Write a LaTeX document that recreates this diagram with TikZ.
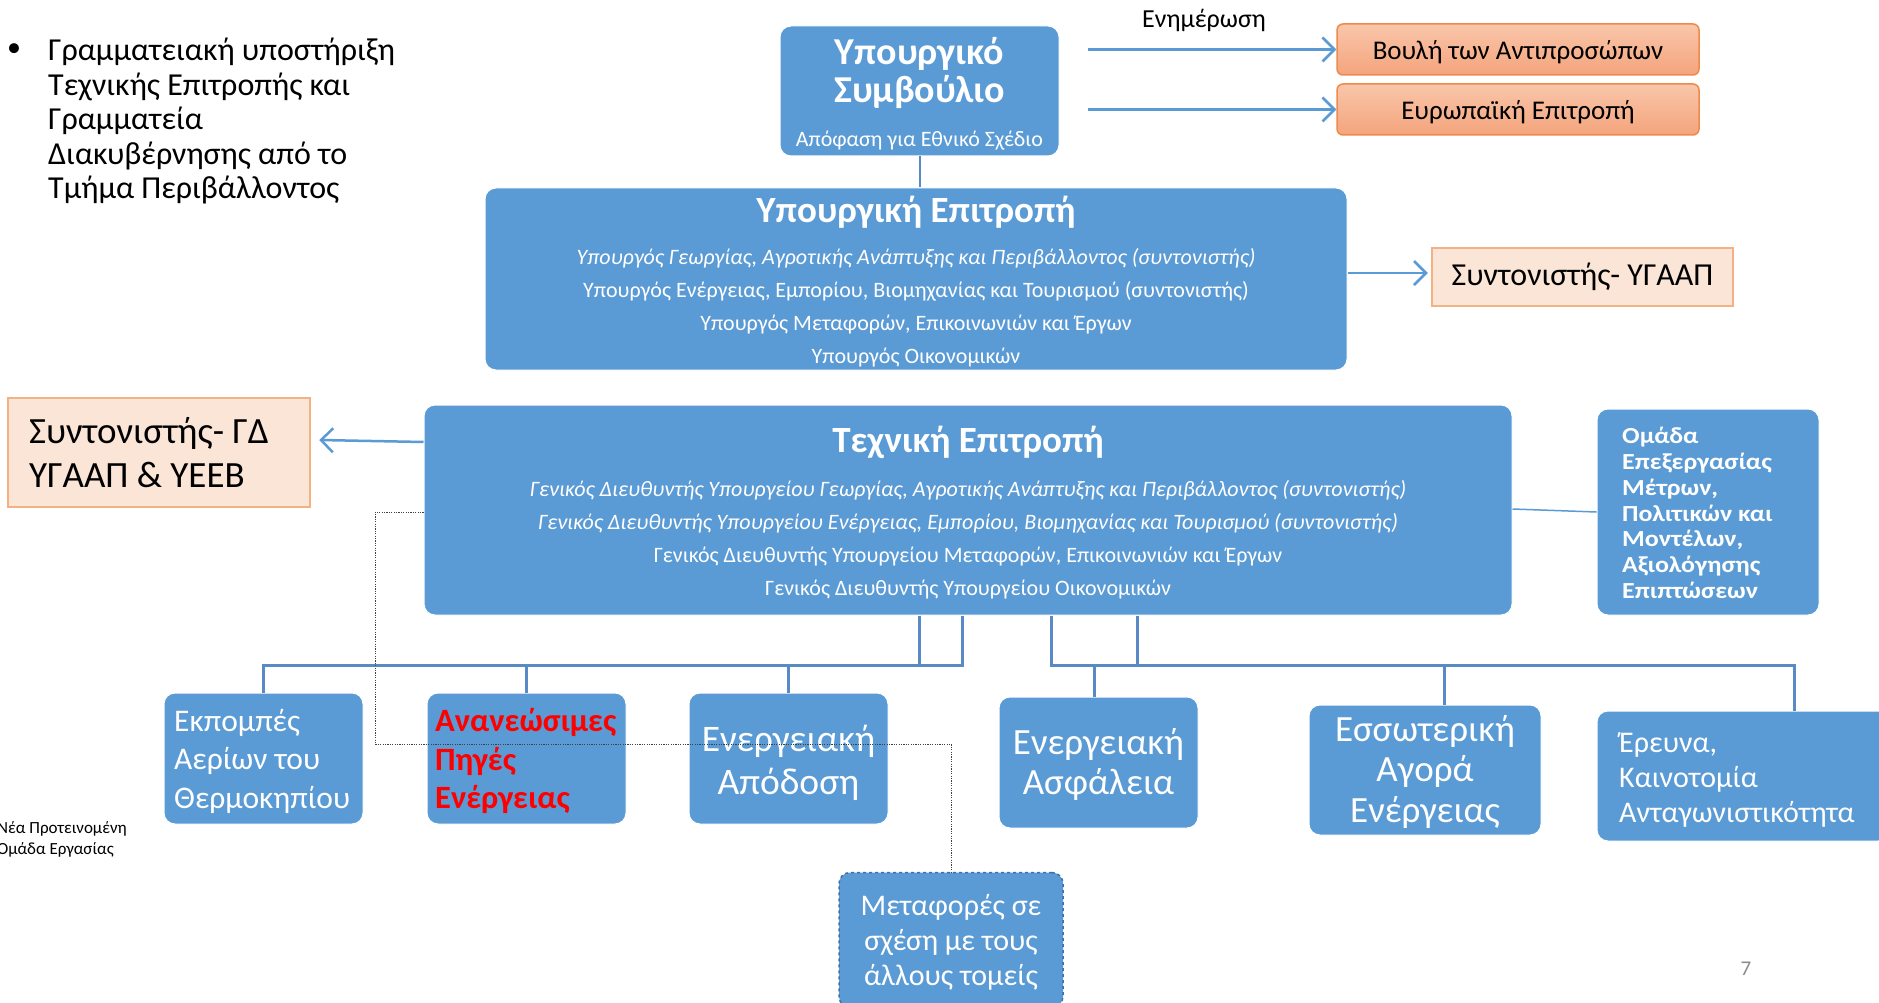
\documentclass[tikz,border=0pt]{standalone}
\usepackage{fontspec}
\setmainfont{Carlito}
\newfontfamily\widefont[FakeStretch=1.13]{Carlito}
\usetikzlibrary{arrows.meta,calc}
\definecolor{boxblue}{HTML}{5B9BD5}
\definecolor{busblue}{HTML}{5A8AC6}
\definecolor{peachfill}{HTML}{FBE5D6}
\definecolor{peachline}{HTML}{F4B183}
\definecolor{orangetop}{HTML}{F9C6AA}
\definecolor{orangebot}{HTML}{F4A47C}
\definecolor{orangeline}{HTML}{ED8A4C}
\definecolor{pagegrey}{HTML}{8C8C8C}
\definecolor{dashblue}{HTML}{3F6FA8}
\definecolor{alertred}{HTML}{FF0000}
\newcommand{\fs}[2]{\fontsize{#1}{#2}\selectfont}

\begin{document}
\begin{tikzpicture}[x=1pt,y=-1pt,
  bluebox/.style={fill=boxblue, draw=white, line width=1pt, rounded corners=11pt, inner sep=0pt},
  orangebox/.style={top color=orangetop, bottom color=orangebot, draw=orangeline, line width=1.5pt, rounded corners=6pt, inner sep=0pt, text height=26pt, text depth=6.6pt},
  peachbox/.style={fill=peachfill, draw=peachline, line width=2.5pt, inner sep=0pt},
  wtext/.style={text=white, inner sep=0pt},
  plain/.style={inner sep=0pt},
  link/.style={draw=boxblue, line width=2.5pt},
  barb/.style={link, -{Straight Barb[length=12pt,width=24pt,line width=2.5pt]}},
  bus/.style={draw=busblue, line width=3pt},
  dotline/.style={draw=black!75, line width=0.9pt, dash pattern=on 1.2pt off 1.2pt}
]
\fill[white] (0,0) rectangle (1879,1003);
\useasboundingbox (0,0) rectangle (1879,1003);

% secretariat note with bullet
\node[plain, font=\fs{28}{34.5}] (bul) at (14,50) {•};
\node[plain, font=\fs{32}{34.5}, align=left, anchor=west] (sec) at (48,121)
  {Γραμματειακή υποστήριξη\\Τεχνικής Επιτροπής και\\Γραμματεία\\Διακυβέρνησης από το\\Τμήμα Περιβάλλοντος};

% ministerial council
\node[bluebox, minimum width=279pt, minimum height=130pt] (sumv) at (919.5,91) {};
\node[wtext, font=\bfseries\fs{38}{39}, align=center] (sumv-t) at (919.5,73) {Υπουργικό\\Συμβούλιο};
\node[wtext, font=\fs{22}{23}] (sumv-s) at (919.5,141) {Απόφαση για Εθνικό Σχέδιο};

% informed bodies
\node[plain, font=\fs{26}{28}] (enim) at (1204,20) {Ενημέρωση};
\node[orangebox, minimum width=362pt, minimum height=51pt, font=\fs{27}{29}] (vouli) at (1518,49.5) {Βουλή των Αντιπροσώπων};
\node[orangebox, minimum width=362pt, minimum height=51pt, font=\fs{27}{29}] (europ) at (1518,109.5) {Ευρωπαϊκή Επιτροπή};
\coordinate (a1) at (1088,49.5);
\coordinate (a2) at (1088,109.5);
\draw[barb] (a1) -- (vouli.west);
\draw[barb] (a2) -- (europ.west);

% ministerial committee
\node[bluebox, minimum width=862pt, minimum height=182pt] (ypep) at (916,279) {};
\node[wtext, font=\bfseries\fs{37}{38}] (ypep-t) at (916,212.5) {Υπουργική Επιτροπή};
\node[wtext, font=\fs{22}{33}, align=center] (ypep-b) at (916,308)
  {{\itshape Υπουργός Γεωργίας, Αγροτικής Ανάπτυξης και Περιβάλλοντος (συντονιστής)}\\
   Υπουργός Ενέργειας, Εμπορίου, Βιομηχανίας και Τουρισμού (συντονιστής)\\
   Υπουργός Μεταφορών, Επικοινωνιών και Έργων\\
   Υπουργός Οικονομικών};
\draw[draw=busblue, line width=2pt] (sumv.south) -- (ypep.north -| sumv.south);

\node[peachbox, minimum width=301pt, minimum height=58pt, font=\fs{32}{34}] (syntyg) at (1582.5,277) {Συντονιστής- ΥΓΑΑΠ};
\draw[barb, shorten >=3pt] (ypep.east |- 0,273) -- (syntyg.west |- 0,273);

% technical committee
\node[bluebox, minimum width=1088pt, minimum height=210pt] (texep) at (968,510) {};
\node[wtext, font=\bfseries\fs{37}{38}] (texep-t) at (968,442.5) {Τεχνική Επιτροπή};
\node[wtext, font=\fs{22}{33}, align=center] (texep-b) at (968,540)
  {{\itshape Γενικός Διευθυντής Υπουργείου Γεωργίας, Αγροτικής Ανάπτυξης και Περιβάλλοντος (συντονιστής)}\\
   {\itshape Γενικός Διευθυντής Υπουργείου Ενέργειας, Εμπορίου, Βιομηχανίας και Τουρισμού (συντονιστής)}\\
   Γενικός Διευθυντής Υπουργείου Μεταφορών, Επικοινωνιών και Έργων\\
   Γενικός Διευθυντής Υπουργείου Οικονομικών};

\node[peachbox, minimum width=302pt, minimum height=109pt] (syntgd) at (159,452.5) {};
\node[plain, font=\fs{37}{44}, align=left, anchor=west] (syntgd-t) at (29,453) {Συντονιστής- ΓΔ\\ΥΓΑΑΠ \& ΥΕΕΒ};
\draw[barb] ($(texep.west)+(0,-68)$) -- ($(syntgd.east)+(8,-12.5)$);

\node[bluebox, minimum width=222pt, minimum height=206pt] (omada) at (1708,512) {};
\node[wtext, font=\widefont\bfseries\fs{23}{25.8}, align=left, anchor=west] (omada-t) at (1622,513)
  {Ομάδα\\Επεξεργασίας\\Μέτρων,\\Πολιτικών και\\Μοντέλων,\\Αξιολόγησης\\Επιπτώσεων};
\draw[link, line width=1.5pt] ($(texep.east)+(0,-1)$) -- (omada.west);

% working groups
\node[bluebox, minimum width=199pt, minimum height=131pt] (ekp) at (263.5,758.5) {};
\node[wtext, font=\fs{31.5}{38.5}, align=left, anchor=west] (ekp-t) at (174,761) {Εκπομπές\\Αερίων του\\Θερμοκηπίου};
\node[bluebox, minimum width=199pt, minimum height=131pt] (anan) at (526.5,758.5) {};
\node[plain, text=alertred, font=\bfseries\fs{32.5}{38.5}, align=left, anchor=west] (anan-t) at (435,761) {Ανανεώσιμες\\Πηγές\\Ενέργειας};
\node[bluebox, minimum width=199pt, minimum height=131pt] (apod) at (788.5,758.5) {};
\node[wtext, font=\fs{37.5}{43}, align=center] (apod-t) at (788.5,763) {Ενεργειακή\\Απόδοση};
\node[bluebox, minimum width=199pt, minimum height=131pt] (asfal) at (1098.5,762.5) {};
\node[wtext, font=\fs{37}{40}, align=center] (asfal-t) at (1098.5,764.5) {Ενεργειακή\\Ασφάλεια};
\node[bluebox, minimum width=232pt, minimum height=130pt] (agora) at (1425,770) {};
\node[wtext, font=\fs{37}{40.5}, align=center] (agora-t) at (1425,771.5) {Εσσωτερική\\Αγορά\\Ενέργειας};
\node[bluebox, minimum width=292pt, minimum height=130pt] (erevna) at (1743,776) {};
\node[wtext, font=\fs{30}{35}, align=left, anchor=west] (erevna-t) at (1619,780) {Έρευνα,\\Καινοτομία\\Ανταγωνιστικότητα};
\node[bluebox, draw=dashblue, dash pattern=on 3pt off 3pt, line width=1.5pt, minimum width=224pt, minimum height=135pt] (metaf) at (951,940) {};
\node[wtext, font=\fs{30}{35}, align=center] (metaf-t) at (951,942) {Μεταφορές σε\\σχέση με τους\\άλλους τομείς};

% hierarchy connectors
\coordinate (bus) at (0,665);
\draw[bus] ($(texep.south)+(-49,0)$) |- (ekp.north |- bus) -- (ekp.north);
\draw[bus] ($(texep.south)+(-49,0)$) |- (anan.north |- bus) -- (anan.north);
\draw[bus] ($(texep.south)+(-6,0)$) |- (apod.north |- bus) -- (apod.north);
\draw[bus] ($(texep.south)+(83,0)$) |- ($(asfal.north |- bus)+(-4,0)$) -- ($(asfal.north)+(-4,0)$);
\draw[bus] ($(texep.south)+(83,0)$) |- ($(agora.north |- bus)+(19,0)$) -- ($(agora.north)+(19,0)$);
\draw[bus] ($(texep.south)+(169,0)$) |- ($(erevna.north |- bus)+(51,0)$) -- ($(erevna.north)+(51,0)$);

% link to the proposed transport group
\coordinate (d1) at (375,744);
\draw[dotline] ($(texep.west)+(0,2)$) -| (d1) -| (metaf.north);

% side note and page number
\node[plain, font=\fs{17}{21}, align=left, anchor=west] (note) at (-3,839) {Νέα Προτεινομένη\\Ομάδα Εργασίας};
\node[plain, text=pagegrey, font=\fs{21}{24}] (pnum) at (1746,969) {7};
\end{tikzpicture}
\end{document}
